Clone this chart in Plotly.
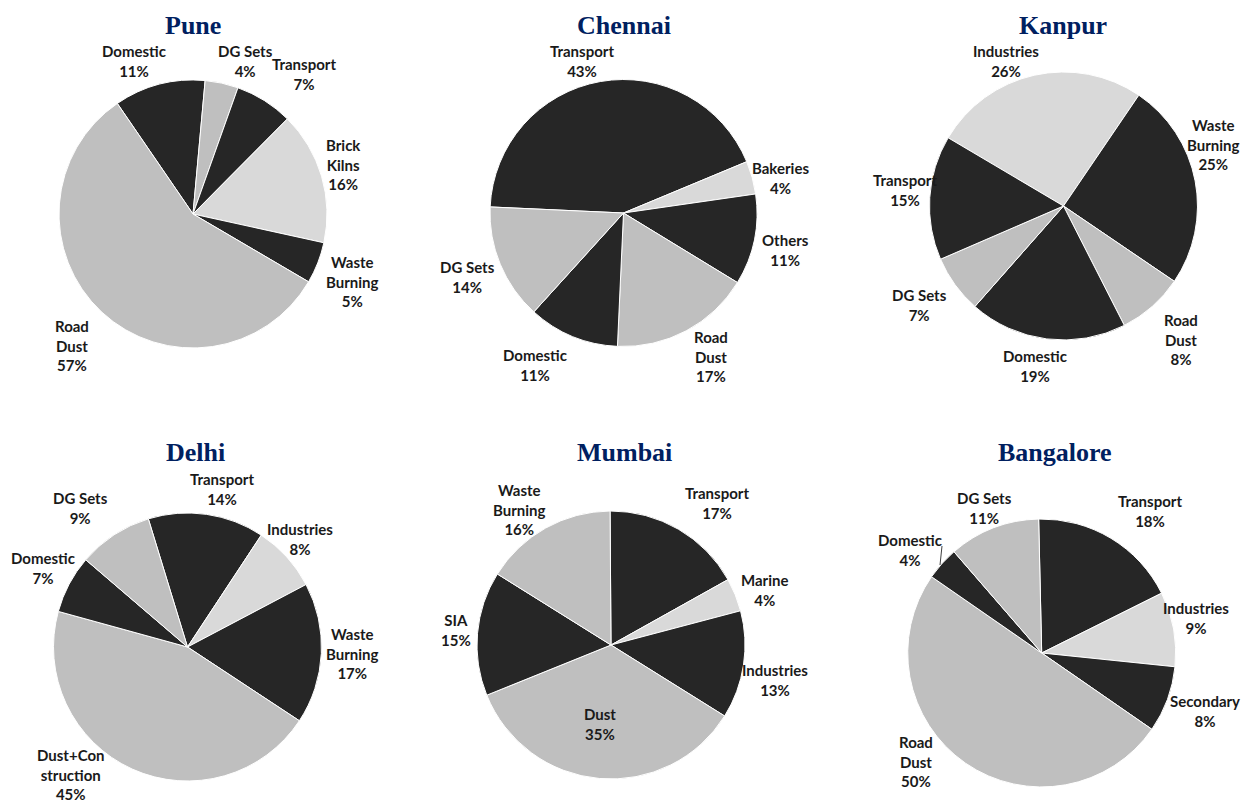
import plotly.graph_objects as go

W, H = 1243, 802

# ---------------- data ----------------
cities = ["Pune", "Chennai", "Kanpur", "Delhi", "Mumbai", "Bangalore"]

pune_labels = ["Domestic", "DG Sets", "Transport", "Brick Kilns", "Waste Burning", "Road Dust"]
pune_values = [11, 4, 7, 16, 5, 57]

chennai_labels = ["Transport", "Bakeries", "Others", "Road Dust", "Domestic", "DG Sets"]
chennai_values = [43, 4, 11, 17, 11, 14]

kanpur_labels = ["Industries", "Waste Burning", "Road Dust", "Domestic", "DG Sets", "Transport"]
kanpur_values = [26, 25, 8, 19, 7, 15]

delhi_labels = ["Transport", "Industries", "Waste Burning", "Dust+Construction", "Domestic", "DG Sets"]
delhi_values = [14, 8, 17, 45, 7, 9]

mumbai_labels = ["Transport", "Marine", "Industries", "Dust", "SIA", "Waste Burning"]
mumbai_values = [17, 4, 13, 35, 15, 16]

bangalore_labels = ["Transport", "Industries", "Secondary", "Road Dust", "Domestic", "DG Sets"]
bangalore_values = [18, 9, 8, 50, 4, 11]

# ---------------- style / layout ----------------
D, G, L = "#262626", "#bfbfbf", "#d9d9d9"

label_breaks = {
    "Brick Kilns": "Brick<br>Kilns",
    "Waste Burning": "Waste<br>Burning",
    "Road Dust": "Road<br>Dust",
    "Dust+Construction": "Dust+Con<br>struction",
}

specs = {
    "Pune": dict(labels=pune_labels, values=pune_values, colors=[D, G, D, L, D, G],
                 rotation=-34.4, center=(193, 214), r=134, title=(193, 25),
                 lab=[(134, 61), (245, 61), (304, 74), (343, 164), (352, 281), (72, 345)]),
    "Chennai": dict(labels=chennai_labels, values=chennai_values, colors=[D, L, D, G, D, G],
                    rotation=-87.4, center=(623.5, 213), r=133.5, title=(624, 25),
                    lab=[(582, 61), (780, 178), (785, 250), (711, 356), (535, 365), (468, 277)]),
    "Kanpur": dict(labels=kanpur_labels, values=kanpur_values, colors=[L, D, G, D, G, D],
                   rotation=-59.4, center=(1063.5, 206), r=134, title=(1063, 25),
                   lab=[(1006, 61), (1213, 144), (1181, 339), (1035, 366), (919, 305), (905, 190)]),
    "Delhi": dict(labels=delhi_labels, values=delhi_values, colors=[D, L, D, G, D, G],
                  rotation=-17, center=(187.5, 647), r=134, title=(195, 452),
                  lab=[(222, 489), (300, 539), (352, 653), (70, 774), (43, 568), (80, 508)]),
    "Mumbai": dict(labels=mumbai_labels, values=mumbai_values, colors=[D, L, D, G, D, G],
                   rotation=-0.4, center=(611, 645), r=134, title=(624, 452),
                   lab=[(717, 503), (764, 590), (775, 680), (600, 724), (456, 630), (519, 509)]),
    "Bangalore": dict(labels=bangalore_labels, values=bangalore_values, colors=[D, L, D, G, D, G],
                      rotation=-1.3, center=(1041.7, 653), r=134, title=(1055, 452),
                      lab=[(1150, 511), (1196, 618), (1205, 711), (916, 761), (910, 550), (984, 508)]),
}

fig = go.Figure()
annotations = []


def px(x, y):
    return x / W, 1 - y / H


for city in cities:
    s = specs[city]
    cx, cy = s["center"]
    r = s["r"]
    fig.add_trace(go.Pie(
        labels=s["labels"], values=s["values"], sort=False, direction="clockwise",
        rotation=s["rotation"], textinfo="none", hoverinfo="label+percent",
        marker=dict(colors=s["colors"], line=dict(color="white", width=1)),
        domain=dict(x=[(cx - r) / W, (cx + r) / W], y=[1 - (cy + r) / H, 1 - (cy - r) / H]),
        showlegend=False,
    ))
    tx, ty = px(*s["title"])
    annotations.append(dict(
        text="<b>%s</b>" % city, x=tx, y=ty, xref="paper", yref="paper",
        xanchor="center", yanchor="middle", showarrow=False,
        font=dict(family="Liberation Serif", size=26, color="#002060"),
    ))
    for name, val, (lx, ly) in zip(s["labels"], s["values"], s["lab"]):
        ax, ay = px(lx, ly)
        annotations.append(dict(
            text="<b>%s<br>%d%%</b>" % (label_breaks.get(name, name), val),
            x=ax, y=ay, xref="paper", yref="paper", xanchor="center", yanchor="middle",
            showarrow=False, align="center",
            font=dict(family="Lato", size=15, color="#1a1a1a"),
        ))

x0, y0 = px(942, 546)
x1, y1 = px(940, 565)
fig.update_layout(
    width=W, height=H, margin=dict(l=0, r=0, t=0, b=0),
    paper_bgcolor="white", plot_bgcolor="white",
    annotations=annotations,
    shapes=[dict(type="line", xref="paper", yref="paper", x0=x0, y0=y0, x1=x1, y1=y1,
                 line=dict(color="#404040", width=1))],
)

fig.write_html(
    "out.html",
    config={"displayModeBar": False},
    post_script="document.body.style.margin='0';document.body.style.overflow='hidden';",
)
